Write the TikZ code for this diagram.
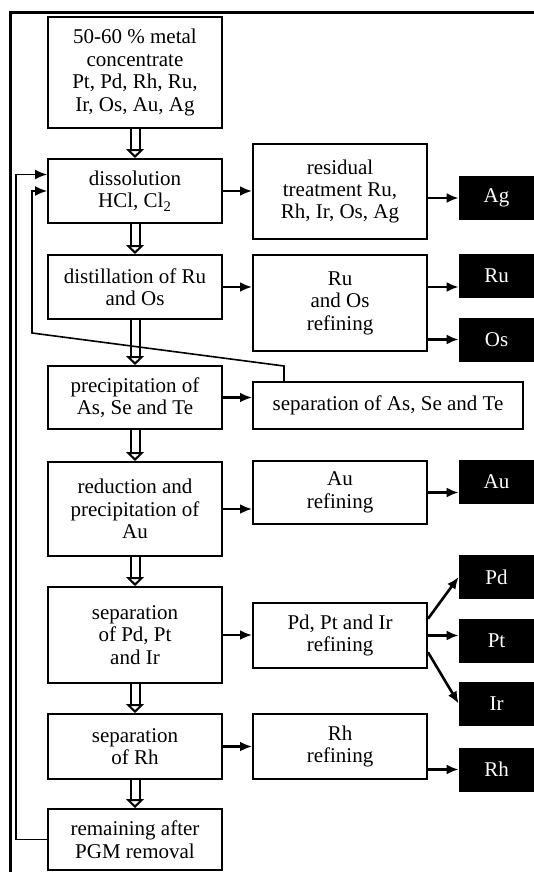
\documentclass[tikz,border=0pt]{standalone}
\usepackage{fontspec}
\setmainfont{Liberation Serif}
\usetikzlibrary{calc}
\usetikzlibrary{arrows.meta}
\tikzset{>={Latex[width=5pt,length=6pt]}}
\tikzset{
  stage/.style={draw=black, line width=1pt, align=center, inner sep=0pt,
    minimum width=87pt, font=\fontsize{10.5}{11.2}\selectfont},
  metal/.style={fill=black, text=white, inner sep=0pt, minimum width=37.5pt,
    minimum height=22pt, font=\fontsize{10.5}{11.2}\selectfont},
  flow/.style={line width=1pt, double, double distance=3.5pt,
    -{Triangle[open, width=9pt, length=4.5pt]}},
  link/.style={->, line width=1.3pt},
  feed/.style={->, line width=0.8pt},
}

\begin{document}
\begin{tikzpicture}[x=0.5pt, y=-0.5pt]
    \useasboundingbox (0,0) rectangle (534,872);
    \draw[line width=1.5pt] (10,872) -- (10,12.5) -- (534,12.5);
    % main line
    \node[stage, minimum height=55.5pt] (conc) at (135,72.5) {50-60 \% metal\\concentrate\\Pt, Pd, Rh, Ru,\\Ir, Os, Au, Ag};
    \node[stage, minimum height=32pt] (diss) at (135,191) {dissolution\\HCl, Cl\textsubscript{2}};
    \node[stage, minimum height=32pt] (dist) at (135,287) {distillation of Ru\\and Os};
    \node[stage, minimum height=31.5pt] (prec) at (135,397.5) {precipitation of\\As, Se and Te};
    \node[stage, minimum height=47pt] (red) at (135,509) {reduction and\\precipitation of\\Au};
    \node[stage, minimum height=48pt] (seppd) at (135,635) {separation\\of Pd, Pt\\and Ir};
    \node[stage, minimum height=32.5pt] (seprh) at (135,746.5) {separation\\of Rh};
    \node[stage, minimum height=30.5pt] (rem) at (135,839.5) {remaining after\\PGM removal};
    % refining
    \node[stage, minimum height=47.5pt] (resid) at (340,191.5) {residual\\treatment Ru,\\Rh, Ir, Os, Ag};
    \node[stage, minimum height=48pt] (rurf) at (340,303) {Ru\\and Os\\refining};
    \node[stage, minimum width=135pt, minimum height=23.5pt] (sepas) at (388,405.5) {separation of As, Se and Te};
    \node[stage, minimum height=31.5pt] (aurf) at (340,492.5) {Au\\refining};
    \node[stage, minimum height=32.5pt] (pdrf) at (340,635.5) {Pd, Pt and Ir\\refining};
    \node[stage, minimum height=32.5pt] (rhrf) at (340,746.5) {Rh\\refining};
    % metals
    \node[metal] (Ag) at (496.5,198) {Ag};
    \node[metal] (Ru) at (496.5,276) {Ru};
    \node[metal] (Os) at (496.5,339.5) {Os};
    \node[metal] (Au) at (496.5,482) {Au};
    \node[metal] (Pd) at (496.5,577) {Pd};
    \node[metal] (Pt) at (496.5,641) {Pt};
    \node[metal] (Ir) at (496.5,703.5) {Ir};
    \node[metal] (Rh) at (496.5,769.5) {Rh};
    % loop points
    \coordinate (loopA) at (16,0);
    \coordinate (bendB) at (284,366);
    \coordinate (cornerB) at (32,333);
    \draw[flow] (conc) -- (diss);
    \draw[flow] (diss) -- (dist);
    \draw[flow] (dist) -- (prec);
    \draw[flow] (prec) -- (red);
    \draw[flow] (red) -- (seppd);
    \draw[flow] (seppd) -- (seprh);
    \draw[flow] (seprh) -- (rem);
    \draw[link] (diss.east) -- (diss.east -| resid.west);
    \draw[link] (resid.east |- Ag) -- (Ag.west);
    \draw[link] (dist.east) -- (dist.east -| rurf.west);
    \draw[link] (rurf.east |- dist) -- (Ru.west |- dist);
    \draw[link] (rurf.east |- Os) -- (Os.west);
    \draw[link] (prec.east) -- (prec.east -| sepas.west);
    \draw[link] (red.east) -- (red.east -| aurf.west);
    \draw[link] (aurf.east) -- (aurf.east -| Au.west);
    \draw[link] (seppd.east) -- (seppd.east -| pdrf.west);
    \draw[link] ($(pdrf.east)!0.5!(pdrf.north east)$) -- (Pd.west);
    \draw[link] (pdrf.east) -- (pdrf.east -| Pt.west);
    \draw[link] ($(pdrf.east)!0.5!(pdrf.south east)$) -- (Ir.west);
    \draw[link] (seprh.east) -- (seprh.east -| rhrf.west);
    \draw[link] (rhrf.east |- Rh) -- (Rh.west);
    \draw[feed] (rem.west) -- (rem.west -| loopA) |- ($(diss.north west)!0.25!(diss.south west)$);
    \draw[feed] (sepas.north west -| bendB) -- (bendB) -- (cornerB) |- (diss.west);
\end{tikzpicture}
\end{document}
